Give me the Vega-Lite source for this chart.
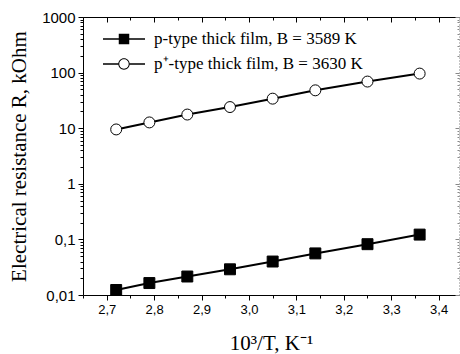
{
  "$schema": "https://vega.github.io/schema/vega-lite/v6.json",
  "width": 376,
  "height": 278,
  "autosize": {"type": "none"},
  "padding": {"left": 83, "top": 17, "right": 1, "bottom": 59},
  "background": "white",
  "config": {
    "view": {"stroke": null},
    "axis": {
      "grid": false,
      "domainColor": "black",
      "domainWidth": 1,
      "tickColor": "black",
      "labelColor": "black",
      "titleColor": "black",
      "labelFont": "Liberation Sans",
      "titleFont": "Liberation Serif",
      "titleFontWeight": "normal",
      "labelOverlap": false,
      "labelFlush": false
    }
  },
  "data": {
    "values": [
      {"x": 2.72, "r": 0.0123, "series": "p"},
      {"x": 2.79, "r": 0.0164, "series": "p"},
      {"x": 2.87, "r": 0.0215, "series": "p"},
      {"x": 2.96, "r": 0.029, "series": "p"},
      {"x": 3.05, "r": 0.040, "series": "p"},
      {"x": 3.14, "r": 0.056, "series": "p"},
      {"x": 3.25, "r": 0.082, "series": "p"},
      {"x": 3.36, "r": 0.122, "series": "p"},
      {"x": 2.72, "r": 9.5, "series": "p+"},
      {"x": 2.79, "r": 12.7, "series": "p+"},
      {"x": 2.87, "r": 17.6, "series": "p+"},
      {"x": 2.96, "r": 24, "series": "p+"},
      {"x": 3.05, "r": 34, "series": "p+"},
      {"x": 3.14, "r": 48, "series": "p+"},
      {"x": 3.25, "r": 69, "series": "p+"},
      {"x": 3.36, "r": 96, "series": "p+"}
    ]
  },
  "resolve": {
    "axis": {"x": "independent", "y": "independent"},
    "scale": {"shape": "independent", "fill": "independent"}
  },
  "layer": [
    {
      "mark": {"type": "line", "color": "black", "strokeWidth": 2},
      "encoding": {
        "x": {
          "field": "x", "type": "quantitative",
          "scale": {"domain": [2.65, 3.443], "nice": false, "zero": false},
          "axis": {
            "orient": "bottom",
            "title": "10³/T, K⁻¹",
            "titleFontSize": 21,
            "titlePadding": 16,
            "labelFontSize": 13,
            "labelPadding": 3,
            "values": [2.65, 2.7, 2.75, 2.8, 2.85, 2.9, 2.95, 3.0, 3.05, 3.1, 3.15, 3.2, 3.25, 3.3, 3.35, 3.4],
            "labelExpr": "abs(datum.value*10 - round(datum.value*10)) < 0.01 ? replace(format(datum.value, '.1f'), '.', ',') : ''",
            "tickSize": {"condition": {"test": "abs(datum.value*10 - round(datum.value*10)) < 0.01", "value": 5}, "value": 3}
          }
        },
        "y": {
          "field": "r", "type": "quantitative",
          "scale": {"type": "log", "domain": [0.01, 1000], "nice": false},
          "axis": {
            "orient": "left",
            "title": "Electrical resistance R, kOhm",
            "titleFontSize": 21,
            "titlePadding": 12,
            "labelFontSize": 15,
            "labelPadding": 3,
            "values": [0.01, 0.02, 0.03, 0.04, 0.05, 0.06, 0.07, 0.08, 0.09, 0.1, 0.2, 0.3, 0.4, 0.5, 0.6, 0.7, 0.8, 0.9, 1, 2, 3, 4, 5, 6, 7, 8, 9, 10, 20, 30, 40, 50, 60, 70, 80, 90, 100, 200, 300, 400, 500, 600, 700, 800, 900, 1000],
            "labelExpr": "datum.value == 0.01 ? '0,01' : datum.value == 0.1 ? '0,1' : datum.value == 1 ? '1' : datum.value == 10 ? '10' : datum.value == 100 ? '100' : datum.value == 1000 ? '1000' : ''",
            "tickSize": {"condition": {"test": "indexof([0.01, 0.1, 1, 10, 100, 1000], datum.value) >= 0", "value": 5}, "value": 3}
          }
        },
        "detail": {"field": "series"}
      }
    },
    {
      "mark": {"type": "point", "size": 120, "stroke": "black", "strokeWidth": 1, "opacity": 1, "fillOpacity": 1},
      "encoding": {
        "x": {
          "field": "x", "type": "quantitative",
          "scale": {"domain": [2.65, 3.443], "nice": false, "zero": false},
          "axis": {
            "orient": "top",
            "title": null,
            "labels": false,
            "values": [2.65, 2.7, 2.75, 2.8, 2.85, 2.9, 2.95, 3.0, 3.05, 3.1, 3.15, 3.2, 3.25, 3.3, 3.35, 3.4],
            "tickSize": {"condition": {"test": "abs(datum.value*10 - round(datum.value*10)) < 0.01", "value": -5}, "value": -3}
          }
        },
        "y": {
          "field": "r", "type": "quantitative",
          "scale": {"type": "log", "domain": [0.01, 1000], "nice": false},
          "axis": {
            "orient": "right",
            "title": null,
            "labels": false,
            "domainColor": "#888",
            "domainDash": [1, 2],
            "tickColor": "#888",
            "values": [0.01, 0.02, 0.03, 0.04, 0.05, 0.06, 0.07, 0.08, 0.09, 0.1, 0.2, 0.3, 0.4, 0.5, 0.6, 0.7, 0.8, 0.9, 1, 2, 3, 4, 5, 6, 7, 8, 9, 10, 20, 30, 40, 50, 60, 70, 80, 90, 100, 200, 300, 400, 500, 600, 700, 800, 900, 1000],
            "tickSize": {"condition": {"test": "indexof([0.01, 0.1, 1, 10, 100, 1000], datum.value) >= 0", "value": -4}, "value": -2}
          }
        },
        "shape": {
          "field": "series", "type": "nominal",
          "scale": {"domain": ["p", "p+"], "range": ["square", "circle"]},
          "legend": null
        },
        "fill": {
          "field": "series", "type": "nominal",
          "scale": {"domain": ["p", "p+"], "range": ["black", "white"]},
          "legend": null
        }
      }
    },
    {
      "transform": [{"filter": "false"}],
      "mark": {"type": "point", "filled": true, "color": "black", "size": 400, "opacity": 1},
      "encoding": {
        "x": {"field": "x", "type": "quantitative", "scale": {"domain": [2.65, 3.443], "nice": false, "zero": false}, "axis": null},
        "y": {"field": "r", "type": "quantitative", "scale": {"type": "log", "domain": [0.01, 1000], "nice": false}, "axis": null},
        "shape": {
          "field": "series", "type": "nominal",
          "scale": {"domain": ["p", "p+"], "range": [
            "M-2.1,-0.075H2.1V0.075H-2.1ZM-0.525,-0.525H0.525V0.525H-0.525Z",
            "M-2.1,-0.075H-0.57V0.075H-2.1ZM0.57,-0.075H2.1V0.075H0.57ZM0.57,0A0.57,0.57 0 1,1 -0.57,0A0.57,0.57 0 1,1 0.57,0ZM0.47,0A0.47,0.47 0 1,0 -0.47,0A0.47,0.47 0 1,0 0.47,0Z"
          ]},
          "legend": {
            "title": null,
            "orient": "none",
            "legendX": 31,
            "legendY": 12,
            "symbolSize": 400,
            "symbolFillColor": "black",
            "symbolStrokeWidth": 0,
            "symbolOpacity": 1,
            "labelFont": "Liberation Serif",
            "labelFontSize": 17,
            "labelColor": "black",
            "labelLimit": 400,
            "labelOffset": 20,
            "rowPadding": 7,
            "labelExpr": "datum.value == 'p' ? 'p-type thick film, B = 3589 K' : 'p⁺-type thick film, B = 3630 K'"
          }
        }
      }
    }
  ]
}
